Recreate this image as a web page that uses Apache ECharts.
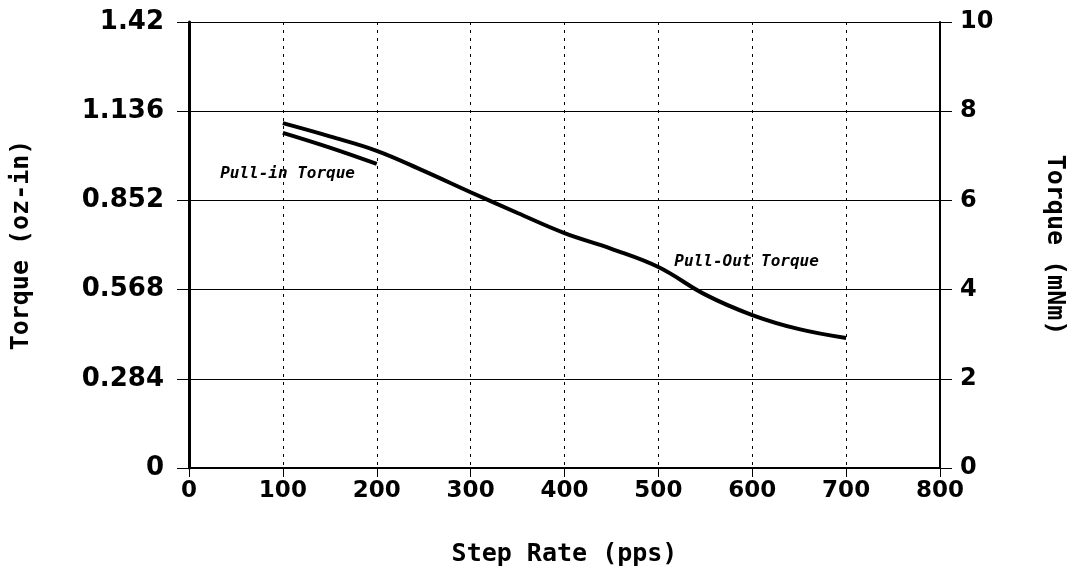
<!DOCTYPE html>
<html lang="en">
<head>
	<meta charset="UTF-8">
	<title>Torque vs Step Rate</title>
	<style type="text/css">
	html,body{margin:0;padding:0;background:#fff;}
	</style>
	<script src="https://cdn.jsdelivr.net/npm/echarts@6/dist/echarts.min.js"></script>
</head>
<body>
	<div id="main" style="width: 1076px;height:571px;"></div>
	<script type="text/javascript">
	// step rate (pps) and torque (oz-in)
	var pullOutRate = [100, 150, 200, 250, 300, 350, 400, 450, 500, 550, 600, 650, 700]
	var pullOutTorque = [1.098, 1.056, 1.010, 0.946, 0.878, 0.812, 0.748, 0.698, 0.640, 0.552, 0.487, 0.442, 0.414]
	var pullInRate = [100, 150, 200]
	var pullInTorque = [1.067, 1.020, 0.968]
	var leftTicks = ['0', '0.284', '0.568', '0.852', '1.136', '1.42']
	var rightTicks = ['0', '2', '4', '6', '8', '10']

	function pairs(xs, ys){
		var out = []
		for (var i = 0; i < xs.length; i++) {
			out.push([xs[i], ys[i]])
		}
		return out
	}

	var tickFont = {color: '#000', fontFamily: 'DejaVu Sans', fontWeight: 'bold'}
	var titleFont = {color: '#000', fontFamily: 'DejaVu Sans Mono', fontWeight: 'bold', fontSize: 25}
	var noteLabel = {
		show: true, position: 'inside', color: '#000', fontFamily: 'DejaVu Sans Mono',
		fontWeight: 'bold', fontStyle: 'italic', fontSize: 16
	}

	var myChart = echarts.init(document.getElementById('main'));
	option = {
		backgroundColor: '#fff',
		animation: false,
		grid: {left: 189, right: 136, top: 22, bottom: 103, containLabel: false, outerBoundsMode: 'none'},
		xAxis: {
			type: 'value', min: 0, max: 800, interval: 100,
			name: 'Step Rate (pps)', nameLocation: 'middle', nameGap: 74,
			nameTextStyle: titleFont,
			axisLine: {lineStyle: {color: '#000', width: 2}},
			axisTick: {length: 9, lineStyle: {color: '#000', width: 1}},
			axisLabel: Object.assign({fontSize: 23, margin: 12}, tickFont),
			splitLine: {show: true, lineStyle: {color: '#000', width: 1, type: [3, 5]}}
		},
		yAxis: [{
			type: 'value', min: 0, max: 1.42, interval: 0.284, position: 'left',
			name: 'Torque (oz-in)', nameLocation: 'middle', nameGap: 155, nameRotate: 90,
			nameTextStyle: titleFont,
			axisLine: {show: true, lineStyle: {color: '#000', width: 3}},
			axisTick: {show: true, length: 12, lineStyle: {color: '#000', width: 1}},
			axisLabel: Object.assign({fontSize: 26, margin: 25, formatter: function(v, i){ return leftTicks[i] }}, tickFont),
			splitLine: {show: true, lineStyle: {color: '#000', width: 1}}
		}, {
			type: 'value', min: 0, max: 10, interval: 2, position: 'right',
			name: 'Torque (mNm)', nameLocation: 'middle', nameGap: 102, nameRotate: -90,
			nameTextStyle: titleFont,
			axisLine: {show: true, lineStyle: {color: '#000', width: 2}},
			axisTick: {show: true, length: 12, lineStyle: {color: '#000', width: 1}},
			axisLabel: Object.assign({fontSize: 24, margin: 20, formatter: function(v, i){ return rightTicks[i] }}, tickFont),
			splitLine: {show: false}
		}],
		series: [{
			name: 'Pull-Out Torque',
			type: 'line', yAxisIndex: 0, smooth: 0.4, symbol: 'none',
			lineStyle: {color: '#000', width: 4},
			data: pairs(pullOutRate, pullOutTorque),
			markPoint: {
				symbol: 'circle', symbolSize: 1,
				itemStyle: {color: 'rgba(0,0,0,0)'},
				label: noteLabel,
				data: [{coord: [594, 0.656], label: {formatter: 'Pull-Out Torque'}}]
			}
		}, {
			name: 'Pull-in Torque',
			type: 'line', yAxisIndex: 0, smooth: 0.4, symbol: 'none',
			lineStyle: {color: '#000', width: 4},
			data: pairs(pullInRate, pullInTorque),
			markPoint: {
				symbol: 'circle', symbolSize: 1,
				itemStyle: {color: 'rgba(0,0,0,0)'},
				label: noteLabel,
				data: [{coord: [105, 0.936], label: {formatter: 'Pull-in Torque'}}]
			}
		}]
	};
	myChart.setOption(option);
	</script>
</body>
</html>
